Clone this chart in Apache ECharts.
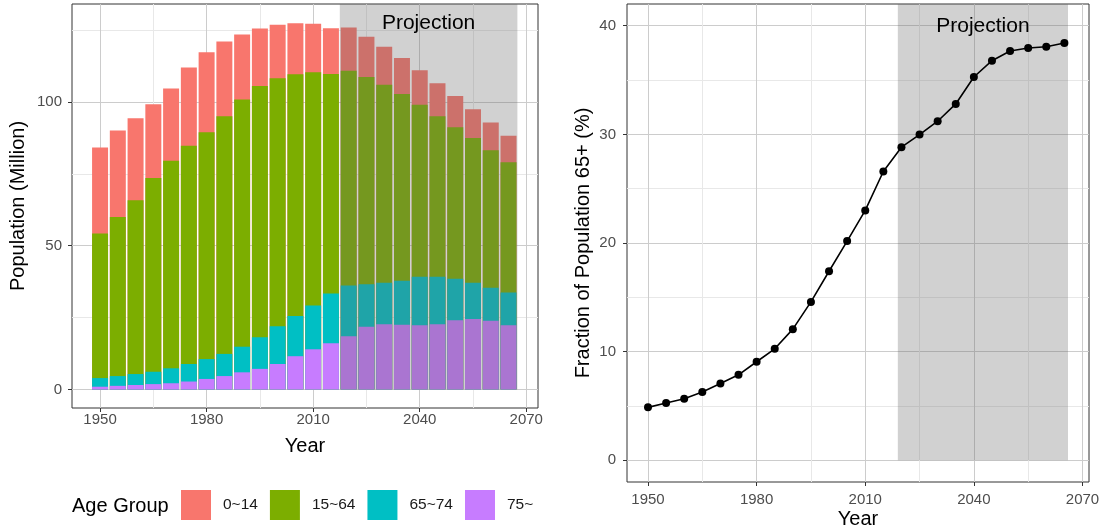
<!DOCTYPE html>
<html>

<head>
  <meta charset="utf-8" />
  <title>Population by Age Group</title>
  <script src="https://cdn.jsdelivr.net/npm/echarts@6/dist/echarts.min.js"></script>
  <style>
    html, body {
      margin: 0;
      padding: 0;
      background: #fff;
    }

    #main {
      width: 1104px;
      height: 527px;
    }
  </style>
</head>

<body>
  <div id="main"></div>

  <script>
    // ---- data ----
    var years = [1950, 1955, 1960, 1965, 1970, 1975, 1980, 1985, 1990, 1995, 2000, 2005,
      2010, 2015, 2020, 2025, 2030, 2035, 2040, 2045, 2050, 2055, 2060, 2065];
    var ageGroups = ["0~14", "15~64", "65~74", "75~"];
    var age0_14 = [29.9, 30.0, 28.5, 25.7, 25.1, 27.2, 27.8, 26.0, 22.6, 20.0, 18.6, 17.7,
      16.8, 15.9, 15.0, 14.0, 13.2, 12.5, 12.0, 11.5, 10.8, 10.0, 9.6, 9.2];
    var age15_64 = [50.2, 55.3, 60.4, 67.3, 72.1, 75.8, 78.8, 82.6, 85.9, 87.3, 86.2, 84.0,
      81.1, 76.3, 74.6, 72.0, 68.8, 64.9, 59.8, 55.8, 52.7, 50.3, 47.8, 45.3];
    var age65_74 = [3.0, 3.4, 3.8, 4.3, 5.2, 6.1, 6.9, 7.7, 8.9, 11.0, 13.1, 14.0,
      15.2, 17.3, 17.7, 14.8, 14.4, 15.3, 16.8, 16.5, 14.4, 12.6, 11.5, 11.3];
    var age75 = [1.0, 1.3, 1.6, 1.9, 2.2, 2.8, 3.7, 4.7, 6.0, 7.2, 8.9, 11.6,
      14.0, 16.1, 18.5, 21.8, 22.7, 22.5, 22.4, 22.7, 24.1, 24.5, 23.9, 22.4];
    var frac65 = [4.87, 5.27, 5.67, 6.28, 7.07, 7.87, 9.07, 10.26, 12.07, 14.58, 17.4, 20.18,
      23.0, 26.58, 28.82, 29.98, 31.21, 32.8, 35.28, 36.78, 37.67, 37.95, 38.07, 38.41];

    var projLeft = [2017.5, 2067.5];
    var projRight = [2019, 2066];
    var xTicks = [1950, 1980, 2010, 2040, 2070];
    var xMinor = [1965, 1995, 2025, 2055];
    var popTicks = [0, 50, 100];
    var popMinor = [25, 75, 125];
    var fracTicks = [0, 10, 20, 30, 40];
    var fracMinor = [5, 15, 25, 35];

    var colors = ["#F8766D", "#7CAE00", "#00BFC4", "#C77CFF"];
    var font = "'Liberation Sans', Arial, Helvetica, sans-serif";

    // ---- layout ----
    var L = { left: 72, top: 4, width: 466, height: 404, xMin: 1942.1, xMax: 2073.3, yMin: -6.4, yMax: 134 };
    var R = { left: 627, top: 4, width: 462, height: 478, xMin: 1944.2, xMax: 2071.8, yMin: -2, yMax: 42 };
    var barPx = 4.5 * L.width / (L.xMax - L.xMin);

    function pairs(arr) {
      return years.map(function (y, i) { return [y, arr[i]]; });
    }

    // main axis: ticks, labels, major grid
    function majorAxis(grid, min, max, ticks, pos, margin) {
      return {
        type: "value", gridIndex: grid, min: min, max: max, position: pos,
        axisLine: { show: false, onZero: false },
        axisTick: { show: true, length: 4, customValues: ticks, lineStyle: { color: "#333", width: 1 } },
        axisLabel: {
          customValues: ticks, margin: margin, fontSize: 15, color: "#4d4d4d", fontFamily: font,
          formatter: function (v) { return String(v); }
        },
        splitLine: { show: true, lineStyle: { color: "#cccccc", width: 1 } }
      };
    }

    // helper axis that only draws the minor grid
    function minorAxis(grid, min, max, ticks, pos) {
      return {
        type: "value", gridIndex: grid, min: min, max: max, position: pos,
        axisLine: { show: false, onZero: false },
        axisTick: { show: false, customValues: ticks },
        axisLabel: { show: false, customValues: ticks },
        splitLine: { show: true, lineStyle: { color: "#e8e8e8", width: 1 } }
      };
    }

    function shade(xIdx, yIdx, range, textY, yTop, z) {
      return {
        type: "custom", xAxisIndex: xIdx, yAxisIndex: yIdx, z: z, silent: true,
        data: [[range[0], range[1]]],
        renderItem: function (params, api) {
          var p0 = api.coord([api.value(0), 0]);
          var p1 = api.coord([api.value(1), yTop]);
          var pt = api.coord([(api.value(0) + api.value(1)) / 2, textY]);
          return {
            type: "group",
            children: [{
              type: "rect",
              shape: { x: p0[0], y: p1[1], width: p1[0] - p0[0], height: p0[1] - p1[1] },
              style: { fill: "rgba(102,102,102,0.3)" }
            }, {
              type: "text",
              x: pt[0], y: pt[1],
              style: { text: "Projection", fontSize: 21, fontFamily: font, fill: "#000", align: "center", verticalAlign: "middle" }
            }]
          };
        }
      };
    }

    // stacked bars: each group drawn from 0 up to its cumulative top,
    // the highest first so the lower groups are painted over it
    var groupsBottomUp = [age75, age65_74, age15_64, age0_14];
    var namesBottomUp = ["75~", "65~74", "15~64", "0~14"];
    var colorsBottomUp = [colors[3], colors[2], colors[1], colors[0]];
    var running = years.map(function () { return 0; });
    var cumTops = groupsBottomUp.map(function (arr) {
      running = running.map(function (v, i) { return +(v + arr[i]).toFixed(2); });
      return running;
    });
    var barSeries = [];
    for (var k = groupsBottomUp.length - 1; k >= 0; k--) {
      barSeries.push({
        name: namesBottomUp[k], type: "bar", xAxisIndex: 0, yAxisIndex: 0,
        barWidth: barPx, barGap: "-100%", data: pairs(cumTops[k]), z: 2,
        itemStyle: { color: colorsBottomUp[k] },
        emphasis: { disabled: true }
      });
    }

    var chart = echarts.init(document.getElementById("main"), null, { renderer: "canvas" });
    var option = {
      animation: false,
      backgroundColor: "#fff",
      textStyle: { fontFamily: font },
      grid: [
        { left: L.left, top: L.top, width: L.width, height: L.height, show: true, borderColor: "#333", borderWidth: 1, backgroundColor: "#fff" },
        { left: R.left, top: R.top, width: R.width, height: R.height, show: true, borderColor: "#333", borderWidth: 1, backgroundColor: "#fff" }
      ],
      xAxis: [
        majorAxis(0, L.xMin, L.xMax, xTicks, "bottom", 4),
        minorAxis(0, L.xMin, L.xMax, xMinor, "top"),
        majorAxis(1, R.xMin, R.xMax, xTicks, "bottom", 10),
        minorAxis(1, R.xMin, R.xMax, xMinor, "top")
      ],
      yAxis: [
        majorAxis(0, L.yMin, L.yMax, popTicks, "left", 10),
        minorAxis(0, L.yMin, L.yMax, popMinor, "right"),
        majorAxis(1, R.yMin, R.yMax, fracTicks, "left", 11),
        minorAxis(1, R.yMin, R.yMax, fracMinor, "right")
      ],
      legend: {
        data: ageGroups,
        left: 181, top: 490, padding: 0,
        itemWidth: 30, itemHeight: 30, itemGap: 12,
        icon: "rect",
        selectedMode: false,
        textStyle: { fontSize: 15.5, color: "#1a1a1a", fontFamily: font, padding: [0, 0, 0, 7] }
      },
      graphic: [
        { type: "text", x: 18, y: 206, rotation: Math.PI / 2, style: { text: "Population (Million)", fontSize: 20, fontFamily: font, fill: "#000", align: "center", verticalAlign: "middle" } },
        { type: "text", x: 305, y: 446, style: { text: "Year", fontSize: 20, fontFamily: font, fill: "#000", align: "center", verticalAlign: "middle" } },
        { type: "text", x: 72, y: 506, style: { text: "Age Group", fontSize: 20, fontFamily: font, fill: "#000", align: "left", verticalAlign: "middle" } },
        { type: "text", x: 583, y: 243, rotation: Math.PI / 2, style: { text: "Fraction of Population 65+ (%)", fontSize: 20, fontFamily: font, fill: "#000", align: "center", verticalAlign: "middle" } },
        { type: "text", x: 858, y: 519, style: { text: "Year", fontSize: 20, fontFamily: font, fill: "#000", align: "center", verticalAlign: "middle" } }
      ],
      series: barSeries.concat([
        shade(0, 0, projLeft, 127.5, L.yMax, 5),
        shade(2, 2, projRight, 40, R.yMax, 1),
        {
          name: "65+", type: "line", xAxisIndex: 2, yAxisIndex: 2, z: 3,
          data: pairs(frac65),
          symbol: "circle", symbolSize: 8, showSymbol: true, showAllSymbol: true,
          itemStyle: { color: "#000" },
          lineStyle: { color: "#000", width: 1.6 },
          emphasis: { disabled: true }
        }
      ])
    };
    chart.setOption(option);
  </script>
</body>

</html>
